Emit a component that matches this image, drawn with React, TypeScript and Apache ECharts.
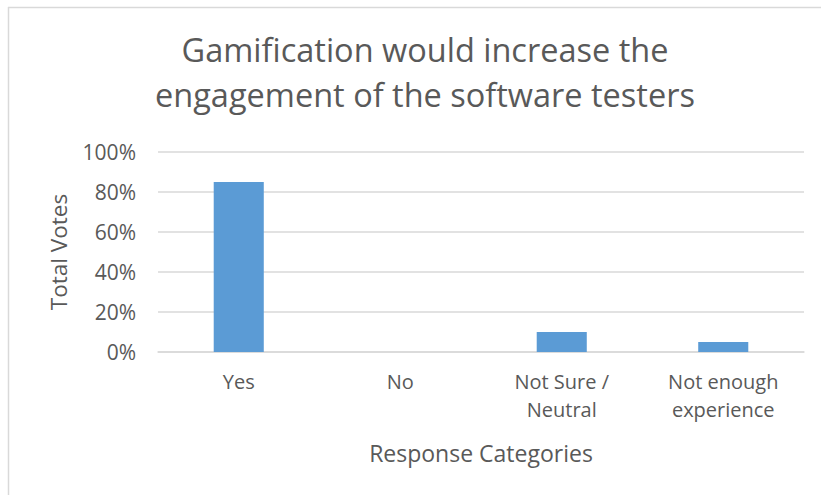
import React, { useEffect, useRef } from "react";
import * as echarts from "echarts";

const titleText = "Gamification would increase the\nengagement of the software testers";
const categories = ["Yes", "No", "Not Sure /\nNeutral", "Not enough\nexperience"];
const votesPercent = [85, 0, 10, 5];
const yTicks = { min: 0, max: 100, interval: 20 };
const xAxisName = "Response Categories";
const yAxisName = "Total Votes";

const FONT = "'Open Sans', 'Liberation Sans', sans-serif";
const TEXT = "#595959";
const GRID = "#D9D9D9";
const BAR = "#5B9BD5";

export default function App() {
  const ref = useRef<HTMLDivElement>(null);
  useEffect(() => {
    if (!ref.current) return;
    const chart = echarts.init(ref.current, undefined, { renderer: "svg" });
    chart.setOption({
      animation: false,
      backgroundColor: "#ffffff",
      textStyle: { fontFamily: FONT },
      title: {
        text: titleText,
        left: 420,
        top: 22,
        textAlign: "center",
        textStyle: {
          fontFamily: FONT,
          fontSize: 32.5,
          fontWeight: "normal",
          color: TEXT,
          lineHeight: 45,
        },
      },
      graphic: [
        { type: "line", shape: { x1: 8, y1: 7.5, x2: 821, y2: 7.5 }, style: { stroke: "#D9D9D9", lineWidth: 1.5 } },
        { type: "line", shape: { x1: 8.5, y1: 7, x2: 8.5, y2: 495 }, style: { stroke: "#D9D9D9", lineWidth: 1.5 } },
      ],
      grid: { left: 158, right: 17, top: 152, bottom: 143, containLabel: false },
      xAxis: {
        type: "category",
        data: categories,
        name: xAxisName,
        nameLocation: "middle",
        nameGap: 89,
        nameTextStyle: { fontFamily: FONT, fontSize: 23, color: TEXT },
        axisLine: { show: true, lineStyle: { color: GRID, width: 1.5 } },
        axisTick: { show: false },
        axisLabel: {
          interval: 0,
          fontFamily: FONT,
          fontSize: 20,
          lineHeight: 28,
          color: TEXT,
          margin: 15,
        },
      },
      yAxis: {
        type: "value",
        min: yTicks.min,
        max: yTicks.max,
        interval: yTicks.interval,
        name: yAxisName,
        nameLocation: "middle",
        nameGap: 88,
        nameRotate: 90,
        nameTextStyle: { fontFamily: FONT, fontSize: 22.5, color: TEXT },
        axisLine: { show: false },
        axisTick: { show: false },
        axisLabel: {
          formatter: "{value}%",
          fontFamily: FONT,
          fontSize: 21,
          color: TEXT,
          margin: 22,
        },
        splitLine: { show: true, lineStyle: { color: GRID, width: 1.5 } },
      },
      series: [
        {
          type: "bar",
          data: votesPercent,
          barWidth: "31%",
          itemStyle: { color: BAR },
        },
      ],
    });
    return () => chart.dispose();
  }, []);
  return (
    <div
      ref={ref}
      style={{ position: "fixed", left: 0, top: 0, width: 821, height: 495 }}
    />
  );
}
